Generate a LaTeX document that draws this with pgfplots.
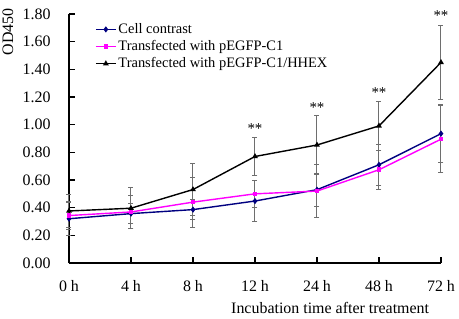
\documentclass[border=0pt]{standalone}
\usepackage{fontspec}
\setmainfont{Liberation Serif}
\usepackage{pgfplots}
\pgfplotsset{compat=1.18}
\definecolor{navyc}{RGB}{0,0,128}
\definecolor{magc}{RGB}{255,0,255}
\definecolor{errgray}{RGB}{110,110,110}
\begin{document}
\begin{tikzpicture}
\begin{axis}[
  at={(0,0)}, anchor=south west,
  scale only axis, width=372bp, height=249bp,
  xmin=0, xmax=6, ymin=0, ymax=1.8,
  axis x line*=bottom, axis y line*=left,
  axis line style={line width=1.4bp, black},
  tick style={line width=1.4bp, black},
  major tick length=6bp,
  tick align=inside,
  xtick={0,1,2,3,4,5,6},
  xticklabels={0 h,4 h,8 h,12 h,24 h,48 h,72 h},
  ytick={0,0.2,0.4,0.6,0.8,1.0,1.2,1.4,1.6,1.8},
  /pgf/number format/assume math mode=true,
  yticklabel style={/pgf/number format/fixed, /pgf/number format/fixed zerofill, /pgf/number format/precision=2, xshift=-15bp},
  ticklabel style={font=\fontsize{16}{19}\selectfont},
  xticklabel style={yshift=-14bp},
  ylabel={OD450},
  every axis y label/.style={at={(axis description cs:-0.164,0.928)}, anchor=center, rotate=90, font=\fontsize{16}{19}\selectfont},
  xlabel={Incubation time after treatment},
  every axis x label/.style={at={(axis description cs:0.702,-0.181)}, anchor=center, font=\fontsize{16}{19}\selectfont},
  clip=false,
  legend style={at={(axis description cs:0.07,0.97)}, anchor=north west, draw=none, fill=none,
    font=\fontsize{14.5}{17}\selectfont, row sep=1.5bp, inner sep=0pt},
  legend cell align=left,
  legend image code/.code={\draw[mark repeat=2,mark phase=2] plot coordinates {(0cm,0cm)(0.35cm,0cm)(0.7cm,0cm)};},
]
\addplot[navyc, line width=1.4bp, mark=diamond*, mark size=2bp, mark options={solid, fill=navyc},
  error bars/.cd, y dir=both, y explicit,
  error bar style={errgray, line width=1bp},
  error mark options={errgray, rotate=90, mark size=2.5bp, line width=1bp}]
  coordinates {(0,0.320) +- (0,0.12) (1,0.357) +- (0,0.07) (2,0.386) +- (0,0.07)
               (3,0.448) +- (0,0.15) (4,0.530) +- (0,0.12) (5,0.710) +- (0,0.15) (6,0.935) +- (0,0.21)};
\addlegendentry{Cell contrast}
\addplot[magc, line width=1.4bp, mark=square*, mark size=1.6bp, mark options={solid, fill=magc},
  error bars/.cd, y dir=both, y explicit,
  error bar style={errgray, line width=1bp},
  error mark options={errgray, rotate=90, mark size=2.5bp, line width=1bp}]
  coordinates {(0,0.343) +- (0,0.10) (1,0.369) +- (0,0.12) (2,0.440) +- (0,0.18)
               (3,0.500) +- (0,0.10) (4,0.520) +- (0,0.19) (5,0.674) +- (0,0.14) (6,0.895) +- (0,0.24)};
\addlegendentry{Transfected with pEGFP-C1}
\addplot[black, line width=1.4bp, mark=triangle*, mark size=2bp, mark options={solid, fill=black},
  error bars/.cd, y dir=both, y explicit,
  error bar style={errgray, line width=1bp},
  error mark options={errgray, rotate=90, mark size=2.5bp, line width=1bp}]
  coordinates {(0,0.376) +- (0,0.12) (1,0.396) +- (0,0.15) (2,0.531) +- (0,0.19)
               (3,0.770) +- (0,0.14) (4,0.853) +- (0,0.21) (5,0.991) +- (0,0.176) (6,1.450) +- (0,0.27)};
\addlegendentry{Transfected with pEGFP-C1/HHEX}
\node[font=\fontsize{15}{18}\selectfont, anchor=center] at (axis cs:3,0.975) {**};
\node[font=\fontsize{15}{18}\selectfont, anchor=center] at (axis cs:4,1.12) {**};
\node[font=\fontsize{15}{18}\selectfont, anchor=center] at (axis cs:5,1.235) {**};
\node[font=\fontsize{15}{18}\selectfont, anchor=center] at (axis cs:6,1.79) {**};
\end{axis}
\pgfresetboundingbox
\path[use as bounding box] (-69bp,-56bp) rectangle (390bp,263bp);
\end{tikzpicture}
\end{document}
